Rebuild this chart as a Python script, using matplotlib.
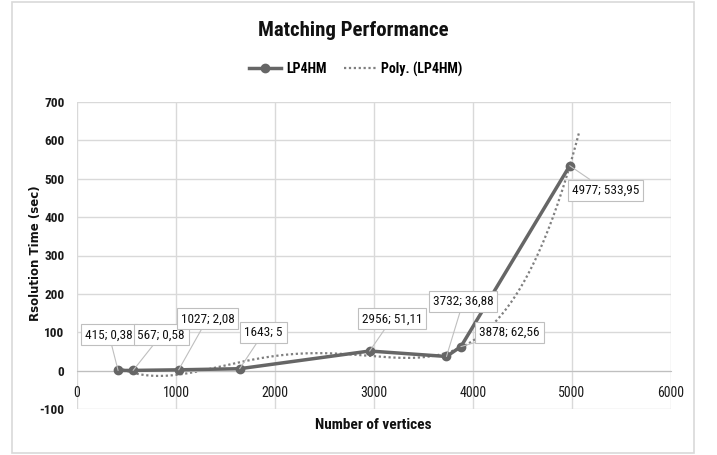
import numpy as np
import matplotlib
matplotlib.use("Agg")
import matplotlib.pyplot as plt
from matplotlib import font_manager

# pick a narrow face if one is present (reference text is a squeezed Calibri)
have = {f.name for f in font_manager.fontManager.ttflist}
face = next((n for n in ['Liberation Sans Narrow', 'Roboto Condensed', 'Archivo Narrow',
                         'Asap Condensed', 'Carlito']
             if n in have), 'DejaVu Sans')
plt.rcParams['font.family'] = [face, 'DejaVu Sans']
plt.rcParams['axes.unicode_minus'] = False

# data
vertices = [415, 567, 1027, 1643, 2956, 3732, 3878, 4977]
times = [0.38, 0.58, 2.08, 5, 51.11, 36.88, 62.56, 533.95]
point_labels = ["415; 0,38", "567; 0,58", "1027; 2,08", "1643; 5",
                "2956; 51,11", "3732; 36,88", "3878; 62,56", "4977; 533,95"]
# where each callout box sits (data coords)
label_pos = [(324, 93), (851, 93), (1317, 135), (1885, 99),
             (3181, 135), (3901, 180), (4367, 99), (5340, 470)]

xticks = [0, 1000, 2000, 3000, 4000, 5000, 6000]
yticks = [-100, 0, 100, 200, 300, 400, 500, 600, 700]

fig = plt.figure(figsize=(7.17, 4.55), dpi=100)
# outer chart frame
fig.add_artist(plt.Rectangle((12 / 717, 2 / 455), 682 / 717, 451 / 455,
                             transform=fig.transFigure, fill=False,
                             edgecolor='#d9d9d9', lw=1.2))

ax = fig.add_axes([77 / 717, 46 / 455, 594 / 717, 307 / 455])
ax.set_xlim(0, 6000)
ax.set_ylim(-100, 700)
ax.set_xticks(xticks)
ax.set_yticks(yticks)
ax.grid(True, color='#d9d9d9', lw=1)
ax.set_axisbelow(True)
for s in ['top', 'right', 'left']:
    ax.spines[s].set_visible(False)
ax.spines['bottom'].set_position(('data', 0))
ax.spines['bottom'].set_color('#bfbfbf')
ax.tick_params(length=0, labelsize=10, colors='#1a1a1a')
ax.tick_params(axis='x', pad=11)
ax.tick_params(axis='y', pad=9, labelsize=9.5)
for t in ax.get_yticklabels():
    t.set_fontweight('bold')

# polynomial trend line (order 4), extended a bit forward like Excel
coef = np.polyfit(vertices, times, 4)
xs = np.linspace(vertices[0], 5070, 300)
ax.plot(xs, np.polyval(coef, xs), ls=(0, (1, 1.2)), color='#7f7f7f', lw=1.6,
        label='Poly. (LP4HM)', zorder=2)

ax.plot(vertices, times, '-o', color='#666666', lw=2.5, ms=6,
        label='LP4HM', zorder=3)

for x, y, txt, (tx, ty) in zip(vertices, times, point_labels, label_pos):
    ax.annotate(txt, xy=(x, y), xytext=(tx, ty), ha='center', va='center',
                fontsize=9.5, color='#111111',
                bbox=dict(boxstyle='square,pad=0.3', fc='white', ec='#bfbfbf', lw=0.8),
                arrowprops=dict(arrowstyle='-', color='#bfbfbf', lw=0.8,
                                shrinkA=0, shrinkB=0), zorder=4)

h, l = ax.get_legend_handles_labels()
fig.legend([h[1], h[0]], [l[1], l[0]], loc='center', bbox_to_anchor=(356 / 717, 1 - 69 / 455),
           ncol=2, frameon=False, handlelength=2.3, columnspacing=1.2,
           handletextpad=0.4, prop=dict(weight='bold', size=10))

fig.text(353 / 717, 1 - 30 / 455, 'Matching Performance', ha='center', va='center',
         fontsize=15, fontweight='bold', color='#111111')
fig.text(373 / 717, 1 - 425 / 455, 'Number of vertices', ha='center', va='center',
         fontsize=11, fontweight='bold', color='#111111')
fig.text(36 / 717, 1 - 253 / 455, 'Rsolution Time (sec)', ha='center', va='center',
         rotation=90, fontsize=8.5, fontweight='bold', color='#111111',
         family=['DejaVu Sans'])

fig.savefig('out.png', dpi=100)
